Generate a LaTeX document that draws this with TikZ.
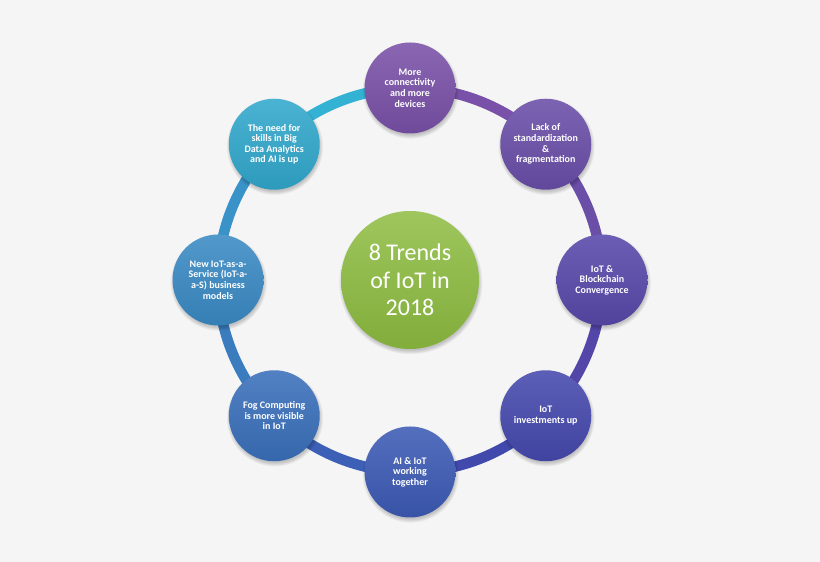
\documentclass[tikz,border=0pt]{standalone}
\usepackage{fontspec}
\setmainfont{Carlito}
\definecolor{bgc}{HTML}{F5F5F5}
\definecolor{cA}{HTML}{7A51A8}
\definecolor{cB}{HTML}{6A4EA8}
\definecolor{cC}{HTML}{5848AA}
\definecolor{cD}{HTML}{4649AD}
\definecolor{cE}{HTML}{3D5BB5}
\definecolor{cF}{HTML}{3A70BB}
\definecolor{cG}{HTML}{3A8AC4}
\definecolor{cH}{HTML}{32A8CC}
\definecolor{rA}{HTML}{34B2D4}
\definecolor{rB}{HTML}{7A51A8}
\definecolor{rC}{HTML}{6A4EA8}
\definecolor{rD}{HTML}{5446A8}
\definecolor{rE}{HTML}{4249AD}
\definecolor{rF}{HTML}{3D60B7}
\definecolor{rG}{HTML}{3B7CBF}
\definecolor{rH}{HTML}{3A93C8}
\definecolor{gA}{HTML}{8DBC40}
\pgfdeclarelayer{ringlayer}
\pgfdeclarelayer{shadowlayer}
\pgfsetlayers{ringlayer,shadowlayer,main}
\begin{document}
\begin{tikzpicture}[x=1pt,y=1pt,
  trend/.style={circle, minimum size=91pt, inner sep=0pt, text=white,
    font=\bfseries\fontsize{10}{10.6}\selectfont, align=center,
    top color=#1!88!white, bottom color=#1!92!black},
  hub/.style={circle, minimum size=138pt, inner sep=0pt, text=white,
    font=\fontsize{24}{27.5}\selectfont, align=center,
    top color=gA!85!white, bottom color=gA!92!black},
  ringseg/.style={draw=#1, line width=10.5pt, line cap=butt},
  softshade/.style={fill=black, opacity=0.045}
]
\begin{scope}[shift={(410,282)}]
\node[hub] (c) at (0,0) {8 Trends\\of IoT in\\2018};
\node[trend=cA] (n1) at (90:192) {More\\connectivity\\and more\\devices};
\node[trend=cB] (n2) at (45:192) {Lack of\\standardization\\\&\\fragmentation};
\node[trend=cC] (n3) at (0:192) {IoT \&\\Blockchain\\Convergence};
\node[trend=cD] (n4) at (-45:192) {IoT\\investments up};
\node[trend=cE] (n5) at (-90:192) {AI \& IoT\\working\\together};
\node[trend=cF] (n6) at (-135:192) {Fog Computing\\is more visible\\in IoT};
\node[trend=cG] (n7) at (180:192) {New IoT-as-a-\\Service (IoT-a-\\a-S) business\\models};
\node[trend=cH] (n8) at (135:192) {The need for\\skills in Big\\Data Analytics\\and AI is up};
\end{scope}
\begin{pgfonlayer}{shadowlayer}
\foreach \n/\r in {c/69,n1/45.5,n2/45.5,n3/45.5,n4/45.5,n5/45.5,n6/45.5,n7/45.5,n8/45.5}{
  \foreach \k in {0,1,2,3,4}{
    \fill[softshade] ([shift={(0.8,-2.6)}]\n.center) circle [radius=\r pt+\k*0.9pt-1pt];
  }
}
\end{pgfonlayer}
\begin{pgfonlayer}{ringlayer}
\fill[bgc] (0,0) rectangle (820,562);
\draw[ringseg=rA] (n8.center) to[bend left=22.5, looseness=0.885] (n1.center);
\draw[ringseg=rB] (n1.center) to[bend left=22.5, looseness=0.885] (n2.center);
\draw[ringseg=rC] (n2.center) to[bend left=22.5, looseness=0.885] (n3.center);
\draw[ringseg=rD] (n3.center) to[bend left=22.5, looseness=0.885] (n4.center);
\draw[ringseg=rE] (n4.center) to[bend left=22.5, looseness=0.885] (n5.center);
\draw[ringseg=rF] (n5.center) to[bend left=22.5, looseness=0.885] (n6.center);
\draw[ringseg=rG] (n6.center) to[bend left=22.5, looseness=0.885] (n7.center);
\draw[ringseg=rH] (n7.center) to[bend left=22.5, looseness=0.885] (n8.center);
\end{pgfonlayer}
\useasboundingbox (0,0) rectangle (820,562);
\end{tikzpicture}
\end{document}
